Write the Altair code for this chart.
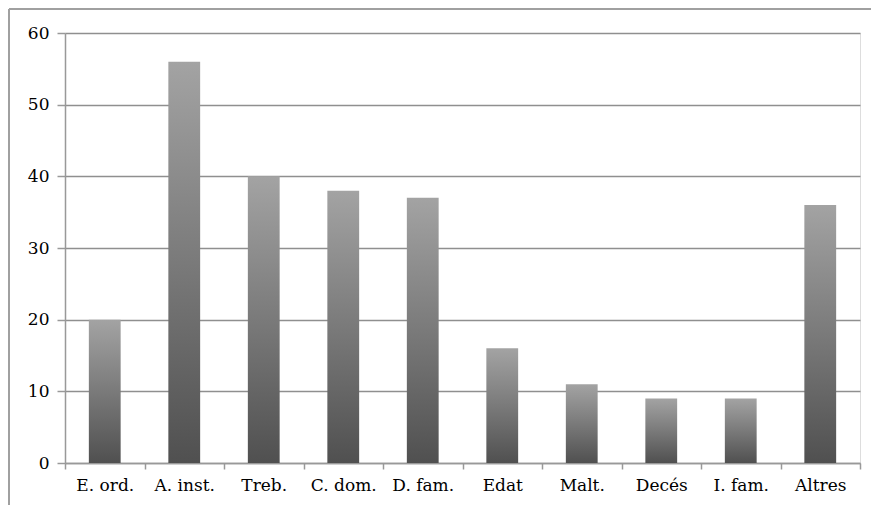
import altair as alt
import pandas as pd

categories = ["E. ord.", "A. inst.", "Treb.", "C. dom.", "D. fam.", "Edat", "Malt.", "Decés", "I. fam.", "Altres"]
values = [20, 56, 40, 38, 37, 16, 11, 9, 9, 36]
y_ticks = [0, 10, 20, 30, 40, 50, 60]

df = pd.DataFrame({"cat": categories, "val": values})

W, H = 795, 430
PL, PT = 57, 25
FONT = "DejaVu Serif"

grad = alt.Gradient(
    gradient="linear",
    stops=[alt.GradientStop(color="#a3a3a3", offset=0),
           alt.GradientStop(color="#7a7a7a", offset=0.5),
           alt.GradientStop(color="#505050", offset=1)],
    x1=0, x2=0, y1=0, y2=1,
)

frame_top = alt.Chart(df).mark_rule(stroke="#a0a0a0", strokeWidth=2).encode(
    x=alt.value(-PL + 1), x2=alt.value(W + 40), y=alt.value(-PT + 1),
)
frame_left = alt.Chart(df).mark_rule(stroke="#a0a0a0", strokeWidth=2).encode(
    x=alt.value(-PL + 1), y=alt.value(-PT + 1), y2=alt.value(H + 80),
)

bars = alt.Chart(df).mark_bar(color=grad, width=alt.RelativeBandSize(0.4)).encode(
    x=alt.X("cat:N", sort=categories,
            scale=alt.Scale(paddingInner=0, paddingOuter=0),
            axis=alt.Axis(title=None, labelAngle=0, tickBand="extent",
                          labelFont=FONT, labelFontSize=17, labelColor="#000",
                          labelPadding=8, tickSize=6, tickColor="#999",
                          domainColor="#999", domainWidth=1.5, tickWidth=1.5)),
    y=alt.Y("val:Q", scale=alt.Scale(domain=[0, 60]),
            axis=alt.Axis(title=None, values=y_ticks, labelFont=FONT,
                          labelFontSize=17, labelColor="#000", labelPadding=8,
                          tickSize=8, tickColor="#999", tickWidth=1.5,
                          domainColor="#999", domainWidth=1.5,
                          grid=True, gridColor="#8f8f8f", gridWidth=1.5)),
)

chart = alt.layer(frame_top, frame_left, bars).properties(
    width=W, height=H,
    autosize=alt.AutoSizeParams(type="none"),
    padding={"left": PL, "top": PT, "right": 11, "bottom": 42},
).configure_view(stroke=None).configure(background="white")

chart.save("out.html", embed_options={"renderer": "svg", "actions": False})
